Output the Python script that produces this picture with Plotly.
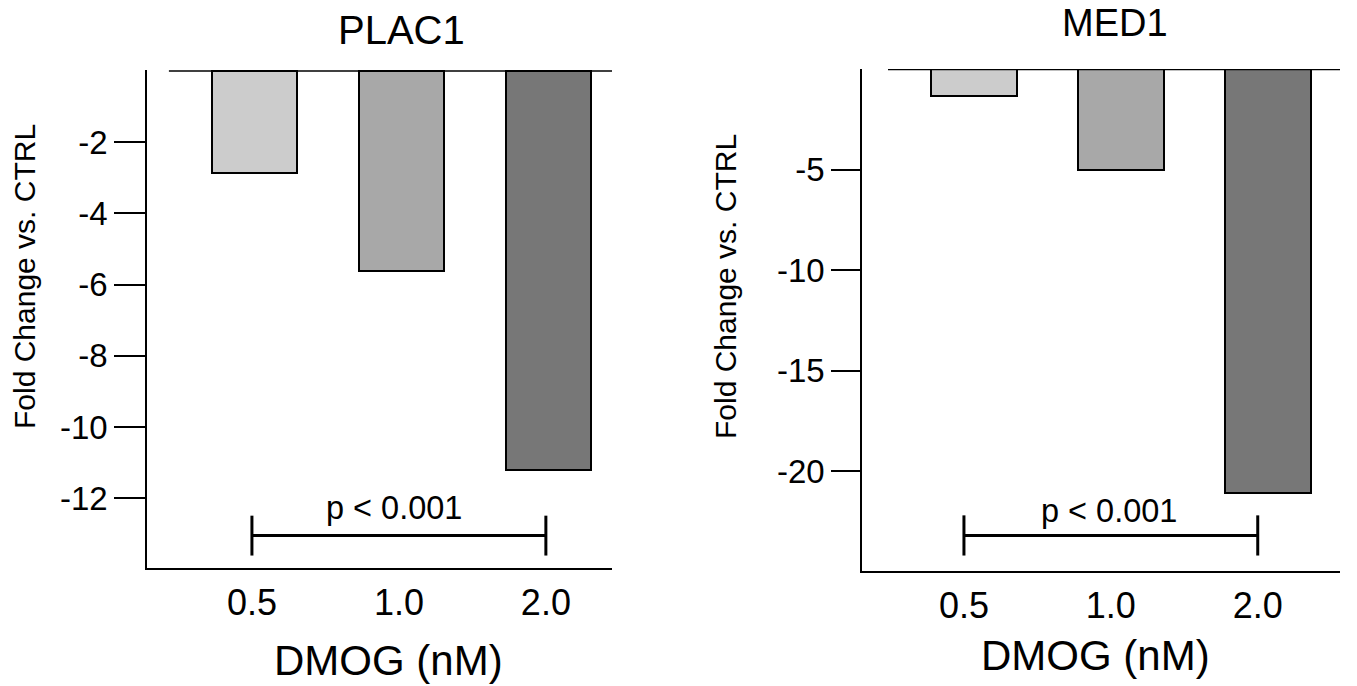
import plotly.graph_objects as go

# ---- data ----
doses = ["0.5", "1.0", "2.0"]
plac1_values = [-2.87, -5.62, -11.22]
med1_values = [-1.3, -5.0, -21.1]
bar_colors = ["#cccccc", "#a8a8a8", "#777777"]
plac1_ticks = [-2, -4, -6, -8, -10, -12]
med1_ticks = [-5, -10, -15, -20]
p_label = "p < 0.001"
plac1_bracket_y = -13.05
med1_bracket_y = -23.2

FONT = "Arial, 'Liberation Sans', Helvetica, sans-serif"
W, H = 1357, 686

xpos = list(range(len(doses)))

fig = go.Figure()

def px_x(p):
    return p / W

def px_y(p):
    return 1 - p / H

def tick_text(vals):
    return ["-" + str(abs(v)) if v < 0 else str(v) for v in vals]

# bars
fig.add_trace(go.Bar(x=xpos, y=plac1_values, width=0.578, offset=-0.289 + 0.02,
                     marker=dict(color=bar_colors, line=dict(color="black", width=2)),
                     xaxis="x", yaxis="y", showlegend=False, hoverinfo="skip"))
fig.add_trace(go.Bar(x=xpos, y=med1_values, width=0.585, offset=-0.2925 + 0.07,
                     marker=dict(color=bar_colors, line=dict(color="black", width=2)),
                     xaxis="x2", yaxis="y2", showlegend=False, hoverinfo="skip"))

# significance brackets
for xa, ya, by, cap in [("x", "y", plac1_bracket_y, 0.56), ("x2", "y2", med1_bracket_y, 1.0)]:
    x0, x1 = xpos[0], xpos[-1]
    fig.add_trace(go.Scatter(x=[x0, x1], y=[by, by], mode="lines",
                             line=dict(color="black", width=3),
                             xaxis=xa, yaxis=ya, showlegend=False, hoverinfo="skip"))
    for xx in (x0, x1):
        fig.add_trace(go.Scatter(x=[xx, xx], y=[by - cap, by + cap], mode="lines",
                                 line=dict(color="black", width=3),
                                 xaxis=xa, yaxis=ya, showlegend=False, hoverinfo="skip"))

axis_common = dict(showline=True, linecolor="black", linewidth=1.5, showgrid=False,
                   zeroline=False, mirror=False)

fig.update_layout(
    width=W, height=H,
    margin=dict(l=0, r=0, t=0, b=0),
    paper_bgcolor="white", plot_bgcolor="white",
    font=dict(family=FONT, color="black"),
    bargap=0,
    xaxis=dict(domain=[px_x(147), px_x(612)], range=[-0.714, 2.45], anchor="y",
               tickvals=xpos, ticktext=doses, ticks="", ticklabelstandoff=2,
               tickfont=dict(size=36), **axis_common),
    yaxis=dict(domain=[px_y(568), px_y(70)], range=[-13.96, 0.03], anchor="x",
               tickvals=plac1_ticks, ticktext=tick_text(plac1_ticks),
               ticks="outside", ticklen=31, tickwidth=1.5,
               tickcolor="black", tickfont=dict(size=33), **axis_common),
    xaxis2=dict(domain=[px_x(862), px_x(1340)], range=[-0.694, 2.56], anchor="y2",
                tickvals=xpos, ticktext=doses, ticks="", ticklabelstandoff=2,
                tickfont=dict(size=36), **axis_common),
    yaxis2=dict(domain=[px_y(571), px_y(69)], range=[-24.97, 0.02], anchor="x2",
                tickvals=med1_ticks, ticktext=tick_text(med1_ticks),
                ticks="outside", ticklen=29, tickwidth=1.5,
                tickcolor="black", tickfont=dict(size=33), **axis_common),
)

# zero lines (top baseline)
fig.add_shape(type="line", xref="x", yref="y", x0=-0.565, x1=2.45, y0=0, y1=0,
              line=dict(color="black", width=1.5))
fig.add_shape(type="line", xref="x2", yref="y2", x0=-0.517, x1=2.56, y0=0, y1=0,
              line=dict(color="black", width=1.5))

ann = []
# p-values
ann.append(dict(x=0.97, y=-12.27, xref="x", yref="y", text=p_label, showarrow=False,
                font=dict(size=32.5), xanchor="center", yanchor="middle"))
ann.append(dict(x=0.99, y=-22.0, xref="x2", yref="y2", text=p_label, showarrow=False,
                font=dict(size=32.5), xanchor="center", yanchor="middle"))
# titles
ann.append(dict(x=px_x(401), y=px_y(30), xref="paper", yref="paper", text="PLAC1",
                showarrow=False, font=dict(size=40), xanchor="center", yanchor="middle"))
ann.append(dict(x=px_x(1115), y=px_y(23), xref="paper", yref="paper", text="MED1",
                showarrow=False, font=dict(size=38), xanchor="center", yanchor="middle"))
# x titles
ann.append(dict(x=px_x(388), y=px_y(660), xref="paper", yref="paper", text="DMOG (nM)",
                showarrow=False, font=dict(size=42), xanchor="center", yanchor="middle"))
ann.append(dict(x=px_x(1095), y=px_y(655), xref="paper", yref="paper", text="DMOG (nM)",
                showarrow=False, font=dict(size=42), xanchor="center", yanchor="middle"))
# y titles
ann.append(dict(x=px_x(24), y=px_y(277), xref="paper", yref="paper",
                text="Fold Change vs. CTRL", textangle=-90,
                showarrow=False, font=dict(size=30), xanchor="center", yanchor="middle"))
ann.append(dict(x=px_x(725), y=px_y(287), xref="paper", yref="paper",
                text="Fold Change vs. CTRL", textangle=-90,
                showarrow=False, font=dict(size=30), xanchor="center", yanchor="middle"))
fig.update_layout(annotations=ann)

fig.write_html(
    "out.html",
    config={"displayModeBar": False},
    post_script="document.body.style.margin='0';document.body.style.overflow='hidden';",
)
